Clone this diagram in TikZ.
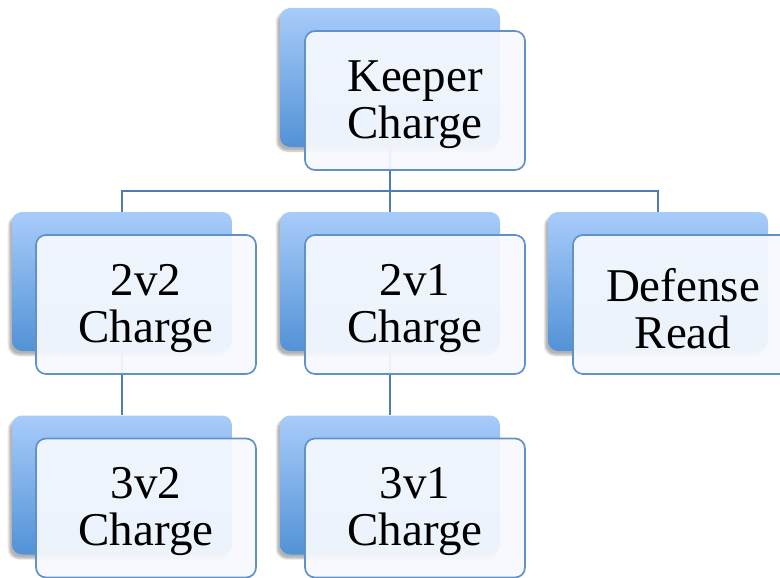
\documentclass[tikz,border=0pt]{standalone}
\usepackage{fontspec}
\setmainfont{Liberation Serif}
\usetikzlibrary{shadows.blur}
\definecolor{backtop}{RGB}{168,204,250}
\definecolor{backbot}{RGB}{82,146,214}
\definecolor{frontfill}{RGB}{246,249,254}
\definecolor{frontline}{RGB}{96,146,200}
\definecolor{linkline}{RGB}{80,124,180}
\tikzset{
  backbox/.style={rectangle, rounded corners=10pt, minimum width=220pt, minimum height=139pt,
    inner sep=0pt, top color=backtop, bottom color=backbot, draw=none,
    blur shadow={shadow xshift=-3pt, shadow yshift=-4pt, shadow opacity=30, shadow blur steps=6}},
  frontbox/.style={rectangle, rounded corners=10pt, minimum width=220pt, minimum height=139pt,
    inner sep=0pt, fill=frontfill, fill opacity=0.94, draw=frontline, draw opacity=1,
    line width=1.7pt},
  cardtext/.style={inner sep=0pt, align=center, font=\fontsize{47}{47}\selectfont},
  link/.style={draw=linkline, line width=1.7pt}
}
\begin{document}
\begin{tikzpicture}[x=1pt, y=-1pt]
\useasboundingbox (0,0) rectangle (780,578);
\clip (0,0) rectangle (780,578);
% back cards
\node[backbox] (kb)  at (390,77.5)  {};
\node[backbox] (c1b) at (122,281.5) {};
\node[backbox] (c2b) at (390,281.5) {};
\node[backbox] (c3b) at (658,281.5) {};
\node[backbox] (g1b) at (122,485)   {};
\node[backbox] (g2b) at (390,485)   {};
% connectors
\coordinate (bus) at (390,191);
\draw[link] (kb.south) -- (bus);
\draw[link] (c1b.north) |- (bus) -| (c3b.north);
\draw[link] (bus) -- (c2b.north);
\draw[link] (c1b.south) -- (g1b.north);
\draw[link] (c2b.south) -- (g2b.north);
% front cards
\node[frontbox] (kf)  at (415,100.5) {};
\node[frontbox] (c1f) at (146,304.5) {};
\node[frontbox] (c2f) at (415,304.5) {};
\node[frontbox] (c3f) at (683,304.5) {};
\node[frontbox] (g1f) at (146,508)   {};
\node[frontbox] (g2f) at (415,508)   {};
% card labels
\node[cardtext] (kt)  at ([yshift=-4pt]kf.center)  {Keeper\\Charge};
\node[cardtext] (c1t) at ([yshift=-4pt]c1f.center) {2v2\\Charge};
\node[cardtext] (c2t) at ([yshift=-4pt]c2f.center) {2v1\\Charge};
\node[cardtext] (c3t) at ([yshift=-4pt]c3f.center) {Defense\\Read};
\node[cardtext] (g1t) at ([yshift=-4pt]g1f.center) {3v2\\Charge};
\node[cardtext] (g2t) at ([yshift=-4pt]g2f.center) {3v1\\Charge};
\end{tikzpicture}
\end{document}
